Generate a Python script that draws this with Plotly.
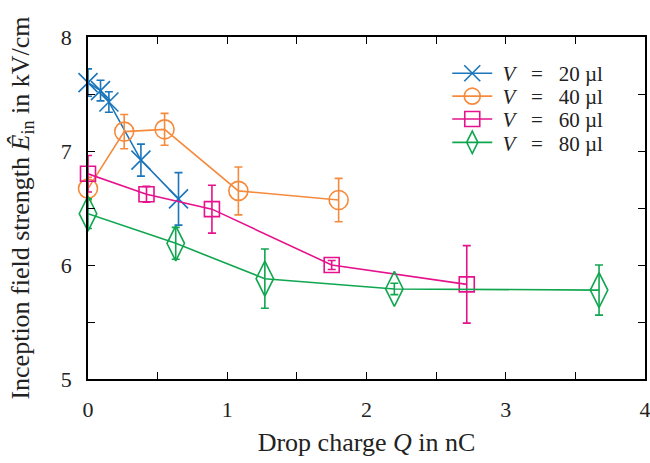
import plotly.graph_objects as go

# Data
q20 = [0.0, 0.09, 0.15, 0.38, 0.65]
e20 = [7.60, 7.53, 7.43, 6.92, 6.58]
d20 = [0.12, 0.09, 0.09, 0.14, 0.23]

q40 = [0.0, 0.26, 0.55, 1.08, 1.80]
e40 = [6.67, 7.17, 7.19, 6.65, 6.57]
d40 = [0.10, 0.15, 0.14, 0.21, 0.19]

q60 = [0.0, 0.42, 0.89, 1.75, 2.72]
e60 = [6.80, 6.62, 6.49, 6.00, 5.83]
d60 = [0.16, 0.07, 0.21, 0.04, 0.34]

q80 = [0.0, 0.63, 1.27, 2.20, 3.67]
e80 = [6.45, 6.19, 5.88, 5.79, 5.78]
d80 = [0.13, 0.14, 0.26, 0.05, 0.22]

volumes = ["20", "40", "60", "80"]
labels = ["&nbsp;<i>V</i>&nbsp;&nbsp;&nbsp;=&nbsp;&nbsp;&nbsp;" + v + "&nbsp;µl" for v in volumes]
colors = ["#1b75bb", "#f68a3c", "#e6118c", "#10a650"]
symbols = ["x-thin-open", "circle-open", "square-open", "diamond-tall-open"]
sizes = [19, 19, 15, 25]
legend_ids = ["legend", "legend2", "legend3", "legend4"]

series = [(q20, e20, d20), (q40, e40, d40), (q60, e60, d60), (q80, e80, d80)]

fig = go.Figure()
for (q, e, d), lab, c, s, sz, lg in zip(series, labels, colors, symbols, sizes, legend_ids):
    fig.add_trace(go.Scatter(
        x=q, y=e, name=lab, mode="lines+markers", legend=lg, cliponaxis=False,
        line=dict(color=c, width=1.6),
        marker=dict(symbol=s, size=sz, color=c, line=dict(color=c, width=1.6)),
        error_y=dict(type="data", array=d, visible=True, color=c, thickness=1.6, width=4),
    ))

serif = "Liberation Serif, DejaVu Serif, serif"
font = dict(family=serif, size=22, color="#222")

axis_common = dict(
    showline=True, linecolor="black", linewidth=1.5, mirror="ticks",
    ticks="inside", ticklen=7, tickwidth=1.3, tickcolor="black",
    showgrid=False, zeroline=False, automargin=False, ticklabeloverflow="allow",
    tickfont=dict(family=serif, size=22, color="#222"),
    minor=dict(ticks="inside", ticklen=7, tickwidth=1.3, tickcolor="black", dtick=0.5),
)

legend_y = [0.893, 0.826, 0.759, 0.691]
legend_layout = {}
for lg, ly in zip(legend_ids, legend_y):
    legend_layout[lg] = dict(x=0.645, y=ly, xanchor="left", yanchor="middle",
                             bgcolor="rgba(0,0,0,0)",
                             font=dict(family=serif, size=21, color="#222"),
                             itemwidth=40)

fig.update_layout(
    width=650, height=463,
    margin=dict(l=88, r=5, t=37, b=84),
    paper_bgcolor="white", plot_bgcolor="white",
    font=font,
    xaxis=dict(range=[0, 4], dtick=1, ticklabelstandoff=10,
               title=dict(text="Drop charge <i>Q</i> in nC", standoff=12), **axis_common),
    yaxis=dict(range=[5, 8], dtick=1, ticklabelstandoff=10,
               title=dict(text="Inception field strength <i>Ê</i><sub>in</sub> in kV/cm", standoff=24), **axis_common),
    showlegend=True,
    **legend_layout,
)

fig.write_html("out.html", config={"displayModeBar": False},
               post_script="document.body.style.margin='0px';")
